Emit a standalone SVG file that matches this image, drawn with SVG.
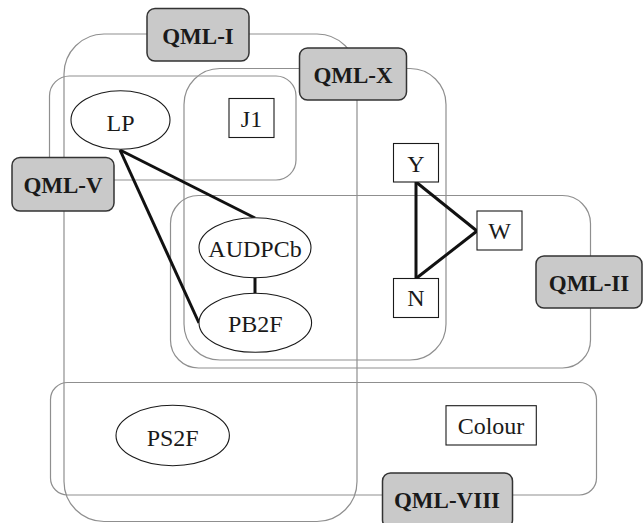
<svg xmlns="http://www.w3.org/2000/svg" width="644" height="523" viewBox="0 0 644 523">
<style>
.region{fill:none;stroke:#8f8f8f;stroke-width:1.2}
.lab rect{fill:#c9c9c9;stroke:#333;stroke-width:1.5}
.lab text{font-family:"Liberation Serif",serif;font-weight:bold;font-size:23px;fill:#1a1a1a;text-anchor:middle}
.node ellipse,.node rect{fill:#fff;stroke:#1a1a1a;stroke-width:1.1}
.node text{font-family:"Liberation Serif",serif;font-size:24px;fill:#1a1a1a;text-anchor:middle}
.edge{stroke:#111;stroke-width:3;fill:none}
</style>
<rect width="644" height="523" fill="#fff"/>
<g id="regions">
<rect class="region" x="64" y="34" width="293" height="487.5" rx="40"/>
<rect class="region" x="49.5" y="76" width="246.5" height="104" rx="20"/>
<rect class="region" x="184" y="68.5" width="262" height="291.5" rx="36"/>
<rect class="region" x="170.5" y="195.5" width="420" height="172.5" rx="28"/>
<rect class="region" x="50.5" y="382.5" width="546" height="112.5" rx="17"/>
</g>
<g id="connectors">
<line class="edge" x1="120" y1="150" x2="255" y2="218"/>
<line class="edge" x1="120" y1="150" x2="199" y2="323"/>
<line class="edge" x1="255" y1="277.5" x2="255" y2="293.5" stroke-width="2.5"/>
<line class="edge" x1="416" y1="182" x2="416" y2="278.5"/>
<line class="edge" x1="416" y1="182" x2="477" y2="231"/>
<line class="edge" x1="416" y1="278.5" x2="477" y2="231"/>
</g>
<g id="label-QML-I" class="lab"><rect x="147" y="8.5" width="102" height="52.5" rx="8"/><text x="198" y="44">QML-I</text></g>
<g id="label-QML-X" class="lab"><rect x="299.5" y="48" width="107" height="52" rx="8"/><text x="353" y="83">QML-X</text></g>
<g id="label-QML-V" class="lab"><rect x="12" y="157.5" width="102" height="53.5" rx="8"/><text x="63" y="192.5">QML-V</text></g>
<g id="label-QML-II" class="lab"><rect x="536" y="256" width="106" height="52" rx="8"/><text x="589" y="290.5">QML-II</text></g>
<g id="label-QML-VIII" class="lab"><rect x="382.5" y="473" width="130" height="55" rx="8"/><text x="447" y="507.5">QML-VIII</text></g>
<g id="node-LP" class="node"><ellipse cx="120.5" cy="120" rx="49.5" ry="29.3"/><text x="120.5" y="131">LP</text></g>
<g id="node-J1" class="node"><rect x="229" y="98.5" width="45" height="39"/><text x="251.5" y="126.5">J1</text></g>
<g id="node-Y" class="node"><rect x="393.5" y="143.5" width="45" height="38.5"/><text x="416" y="171.5">Y</text></g>
<g id="node-W" class="node"><rect x="477" y="211" width="45" height="39"/><text x="499.5" y="238.5">W</text></g>
<g id="node-N" class="node"><rect x="393.5" y="278.5" width="45" height="39"/><text x="416" y="305.5">N</text></g>
<g id="node-AUDPCb" class="node"><ellipse cx="255" cy="247.7" rx="56" ry="30"/><text x="255" y="256.5">AUDPCb</text></g>
<g id="node-PB2F" class="node"><ellipse cx="255.3" cy="322.8" rx="56.3" ry="29.5"/><text x="255.3" y="331.5">PB2F</text></g>
<g id="node-PS2F" class="node"><ellipse cx="172.7" cy="435.5" rx="56.7" ry="30.2"/><text x="172.7" y="445.5">PS2F</text></g>
<g id="node-Colour" class="node"><rect x="446" y="405.7" width="90.3" height="39.3"/><text x="491" y="434">Colour</text></g>
</svg>
